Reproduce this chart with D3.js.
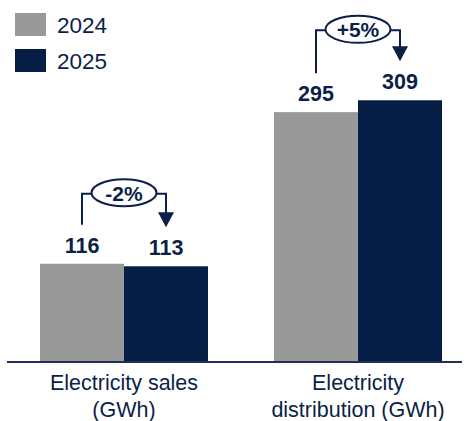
<!DOCTYPE html>
<html>
<head>
<meta charset="utf-8">
<script src="https://cdn.jsdelivr.net/npm/d3@7"></script>
<style>
  html, body { margin: 0; padding: 0; background: #fff; }
  svg { display: block; font-family: "Liberation Sans", Arial, sans-serif; }
</style>
</head>
<body>
<svg id="chart" width="471" height="421"></svg>
<script>
// Categories, years and values
const categories = ["Electricity sales (GWh)", "Electricity distribution (GWh)"];
const categoryLines = [["Electricity sales", "(GWh)"], ["Electricity", "distribution (GWh)"]];
const years = ["2024", "2025"];
const values2024 = [116, 295];
const values2025 = [113, 309];
const changeLabels = ["-2%", "+5%"];

const colors = { "2024": "#999999", "2025": "#061e45" };
const ink = "#0c1f48";

const svg = d3.select("#chart");
const baseY = 362;

const x = d3.scaleBand()
  .domain(categories)
  .range([7, 475])
  .paddingInner(0.282)
  .paddingOuter(0.141);

const xSub = d3.scaleBand()
  .domain(years)
  .range([0, x.bandwidth()]);

const y = d3.scaleLinear()
  .domain([0, 420])
  .range([baseY, baseY - 420 * 0.847]);

const rows = categories.map((c, i) => ({
  category: c,
  lines: categoryLines[i],
  change: changeLabels[i],
  values: [
    { year: "2024", value: values2024[i] },
    { year: "2025", value: values2025[i] }
  ]
}));

// Bars
const groups = svg.selectAll("g.group")
  .data(rows)
  .join("g")
  .attr("class", "group")
  .attr("transform", d => `translate(${x(d.category)},0)`);

groups.selectAll("rect")
  .data(d => d.values)
  .join("rect")
  .attr("x", d => xSub(d.year))
  .attr("y", d => y(d.value))
  .attr("width", xSub.bandwidth())
  .attr("height", d => baseY - y(d.value))
  .attr("fill", d => colors[d.year]);

// Value labels
groups.selectAll("text.val")
  .data(d => d.values)
  .join("text")
  .attr("class", "val")
  .attr("x", d => xSub(d.year) + xSub.bandwidth() / 2)
  .attr("y", d => y(d.value) - 11)
  .attr("text-anchor", "middle")
  .attr("font-size", 21.5)
  .attr("font-weight", "bold")
  .attr("fill", ink)
  .text(d => d.value);

// Change brackets: line from 2024 label, ellipse with percentage, arrow down to 2025 label
groups.each(function(d) {
  const g = d3.select(this);
  const x0 = xSub("2024") + xSub.bandwidth() / 2;
  const x1 = xSub("2025") + xSub.bandwidth() / 2;
  const v0 = d.values[0].value, v1 = d.values[1].value;
  const topY = y(Math.max(v0, v1)) - 70;
  const startY = y(v0) - 39;
  const tipY = y(v1) - 39;
  const cx = (x0 + x1) / 2;

  g.append("path")
    .attr("d", `M${x0},${startY}V${topY}H${x1}V${tipY - 14}`)
    .attr("fill", "none")
    .attr("stroke", ink)
    .attr("stroke-width", 2);

  g.append("path")
    .attr("d", `M${x1 - 8},${tipY - 15}L${x1 + 8},${tipY - 15}L${x1},${tipY}Z`)
    .attr("fill", ink);

  g.append("ellipse")
    .attr("cx", cx)
    .attr("cy", topY - 1)
    .attr("rx", 32.5)
    .attr("ry", 13.5)
    .attr("fill", "#fff")
    .attr("stroke", ink)
    .attr("stroke-width", 2);

  g.append("text")
    .attr("x", cx)
    .attr("y", topY + 7)
    .attr("text-anchor", "middle")
    .attr("font-size", 21)
    .attr("font-weight", "bold")
    .attr("fill", ink)
    .text(d.change);
});

// Baseline
svg.append("line")
  .attr("x1", 7).attr("x2", 462)
  .attr("y1", baseY).attr("y2", baseY)
  .attr("stroke", "#1f2f55")
  .attr("stroke-width", 2);

// Category labels
const catLabels = svg.selectAll("text.cat")
  .data(rows)
  .join("text")
  .attr("class", "cat")
  .attr("text-anchor", "middle")
  .attr("font-size", 21.5)
  .attr("fill", ink)
  .attr("transform", d => `translate(${x(d.category) + x.bandwidth() / 2},0)`);

catLabels.selectAll("tspan")
  .data(d => d.lines)
  .join("tspan")
  .attr("x", 0)
  .attr("y", (l, i) => 390 + i * 27)
  .text(l => l);

// Legend
const legend = svg.selectAll("g.legend")
  .data(years)
  .join("g")
  .attr("class", "legend")
  .attr("transform", (d, i) => `translate(15,${13 + i * 36})`);

legend.append("rect")
  .attr("width", 31)
  .attr("height", 23)
  .attr("fill", d => colors[d]);

legend.append("text")
  .attr("x", 42)
  .attr("y", 20)
  .attr("font-size", 22.5)
  .attr("fill", ink)
  .text(d => d);
</script>
</body>
</html>
